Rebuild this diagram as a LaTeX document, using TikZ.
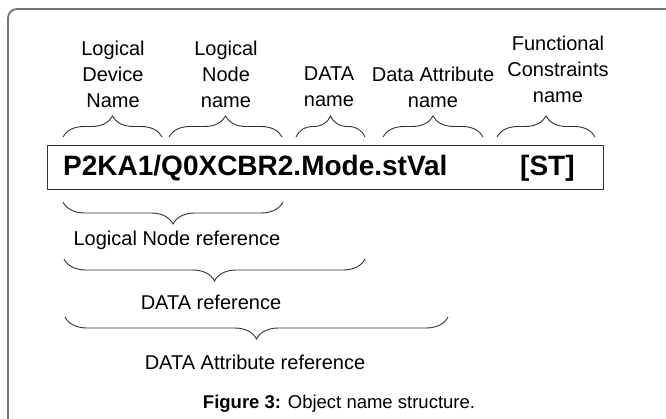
\documentclass[tikz,border=0pt]{standalone}
\usepackage{fontspec}
\setmainfont{Liberation Sans}
\usepackage{tikz}
\usetikzlibrary{decorations.pathreplacing}

\tikzset{
	label text/.style={align=center,font=\fontsize{20}{26}\selectfont},
	up brace/.style={draw=black!80,line width=0.9pt,decorate,decoration={brace,amplitude=21pt}},
	down brace/.style={draw=black!80,line width=0.9pt,decorate,decoration={brace,amplitude=22pt,mirror}}
}

\begin{document}
\begin{tikzpicture}[x=1pt,y=-1pt]
	\useasboundingbox (0,0) rectangle (666,419);
	\clip (0,0) rectangle (666,419);
	\draw[black!55,line width=1.8pt,rounded corners=9pt] (8,9) rectangle (700,450);

	\node (objbox) [draw=black!80,line width=1.1pt,minimum width=556pt,minimum height=44pt,anchor=north west,inner sep=0pt] at (47,145) {};
	\node (objname) [anchor=base west,inner sep=0pt,font=\fontsize{28}{32}\selectfont\bfseries] at (63,176) {P2KA1/Q0XCBR2.Mode.stVal};
	\node (fcname) [anchor=base west,inner sep=0pt,font=\fontsize{28}{32}\selectfont\bfseries] at (520,176) {[ST]};

	\node (ldn) [label text] at (113,74) {Logical\\Device\\Name};
	\node (lnn) [label text] at (226,74) {Logical\\Node\\name};
	\node (dn) [label text] at (329,87) {DATA\\name};
	\node (dan) [label text] at (433,87) {Data Attribute\\name};
	\node (fcn) [label text] at (558,69) {Functional\\Constraints\\name};

	\coordinate (ldn a) at (63,137);  \coordinate (ldn b) at (162,137);
	\coordinate (lnn a) at (169,137); \coordinate (lnn b) at (282,137);
	\coordinate (dn a) at (296,137);  \coordinate (dn b) at (365,137);
	\coordinate (dan a) at (383,137); \coordinate (dan b) at (483,137);
	\coordinate (fcn a) at (497,137); \coordinate (fcn b) at (595,137);
	\draw[up brace] (ldn a) -- (ldn b);
	\draw[up brace] (lnn a) -- (lnn b);
	\draw[up brace] (dn a) -- (dn b);
	\draw[up brace] (dan a) -- (dan b);
	\draw[up brace] (fcn a) -- (fcn b);

	\coordinate (lnref a) at (63,202);  \coordinate (lnref b) at (283,202);
	\coordinate (dref a) at (64,259);   \coordinate (dref b) at (365,259);
	\coordinate (daref a) at (65,317);  \coordinate (daref b) at (448,317);
	\draw[down brace] (lnref a) -- (lnref b);
	\draw[down brace] (dref a) -- (dref b);
	\draw[down brace] (daref a) -- (daref b);

	\node (lnref) [label text] at (177,240) {Logical Node reference};
	\node (dref) [label text] at (211,302) {DATA reference};
	\node (daref) [label text] at (255,362) {DATA Attribute reference};

	\node (caption) [font=\fontsize{18.5}{22}\selectfont] at (339,404) {\textbf{Figure 3:} Object name structure.};
\end{tikzpicture}
\end{document}
